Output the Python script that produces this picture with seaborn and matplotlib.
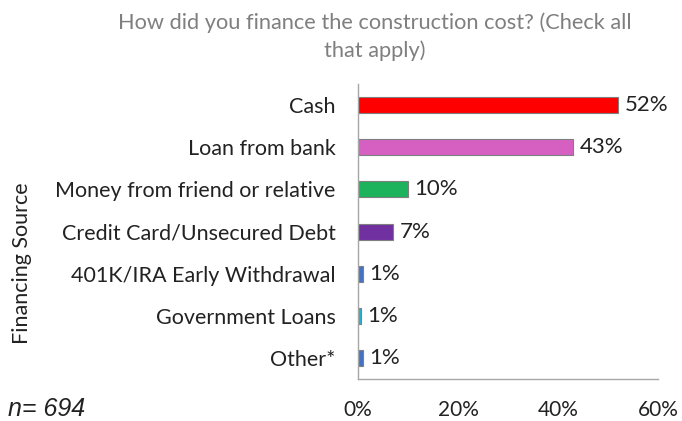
import pandas as pd
import matplotlib.pyplot as plt
import seaborn as sns

# Data
sources = ['Cash', 'Loan from bank', 'Money from friend or relative',
           'Credit Card/Unsecured Debt', '401K/IRA Early Withdrawal',
           'Government Loans', 'Other*']
pct = [52, 43, 10, 7, 1, 0.5, 1]
pct_labels = ['52%', '43%', '10%', '7%', '1%', '1%', '1%']
bar_colors = ['#FF0000', '#D660C2', '#1DB25C', '#7030A0', '#4472C4', '#1FB5D0', '#4472C4']
x_ticks = [0, 20, 40, 60]

df = pd.DataFrame({'Source': sources, 'Pct': pct})

sns.set_style('white')
plt.rcParams['font.family'] = ['Lato', 'DejaVu Sans']

fig = plt.figure(figsize=(6.82, 4.21), dpi=100)
ax = fig.add_axes([0.525, 0.10, 0.44, 0.70])

sns.barplot(data=df, x='Pct', y='Source', hue='Source', palette=bar_colors,
            saturation=1, legend=False, width=0.38, edgecolor='#7f7f7f',
            linewidth=0.8, ax=ax)

for i, (v, lab) in enumerate(zip(pct, pct_labels)):
    ax.text(v + 1.3, i, lab, va='center', ha='left', fontsize=16, color='#222222')

ax.set_xlim(0, 60)
ax.set_ylim(6.5, -0.5)
ax.set_xticks(x_ticks)
ax.set_xticklabels([f'{t}%' for t in x_ticks], fontsize=15, color='#222222')
ax.tick_params(axis='x', length=0, pad=15)
ax.tick_params(axis='y', length=0, pad=16, labelsize=15.5, labelcolor='#222222')
ax.set_xlabel('')
ax.set_ylabel('')

for s in ['top', 'right']:
    ax.spines[s].set_visible(False)
for s in ['left', 'bottom']:
    ax.spines[s].set_color('#a6a6a6')
    ax.spines[s].set_linewidth(1)

fig.text(0.032, 0.375, 'Financing Source', rotation=90, ha='center', va='center',
         fontsize=15.5, color='#222222')
fig.text(0.55, 0.913, 'How did you finance the construction cost? (Check all\nthat apply)',
         ha='center', va='center', fontsize=15.7, color='#7f7f7f', linespacing=1.4)
fig.text(0.012, 0.028, 'n= 694', ha='left', va='center', fontsize=18,
         style='italic', family='Liberation Sans', color='#222222')

plt.savefig('out.png', dpi=100)
